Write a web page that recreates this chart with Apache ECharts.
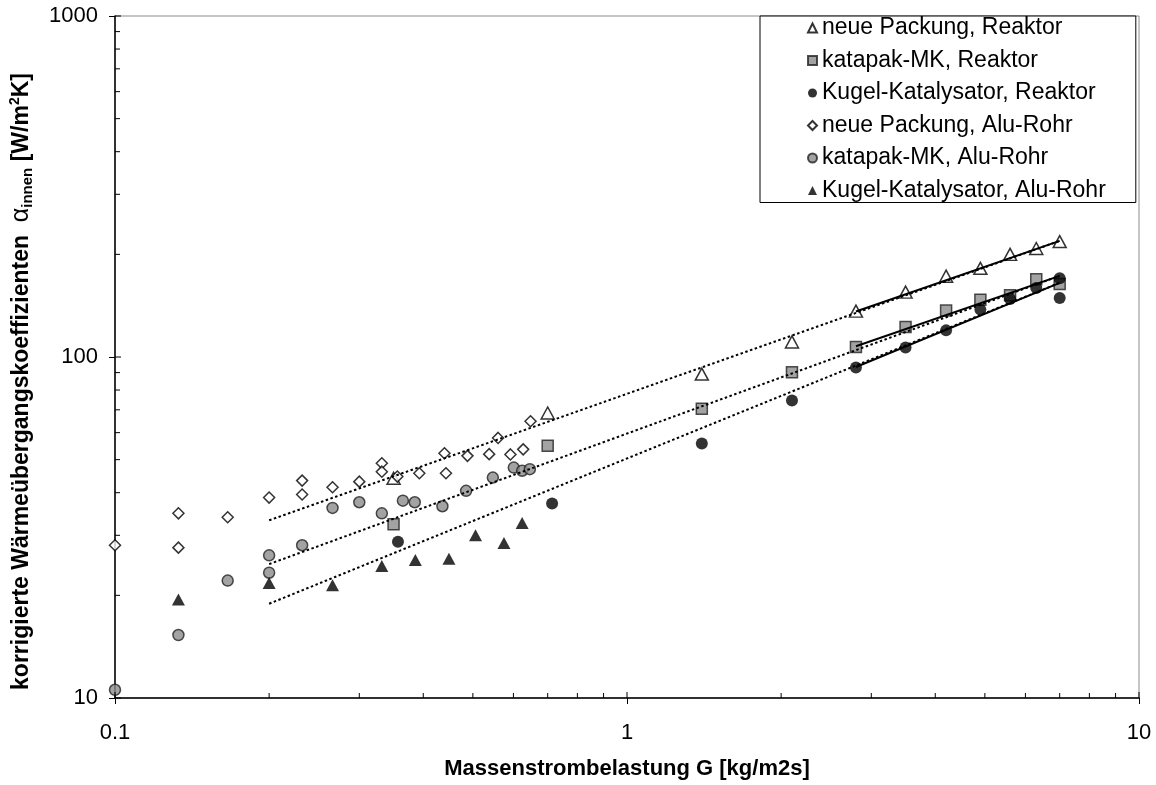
<!DOCTYPE html>
<html>
<head>
<meta charset="utf-8">
<script src="https://cdn.jsdelivr.net/npm/echarts@6/dist/echarts.min.js"></script>
<style>
html,body{margin:0;padding:0;background:#fff;}
#chart{width:1156px;height:785px;}
</style>
</head>
<body>
<div id="chart"></div>
<script>
// ---- data ----
const seriesNames = [
  'neue Packung, Reaktor',
  'katapak-MK, Reaktor',
  'Kugel-Katalysator, Reaktor',
  'neue Packung, Alu-Rohr',
  'katapak-MK, Alu-Rohr',
  'Kugel-Katalysator, Alu-Rohr'
];

const neueReaktorX = [0.35, 0.7, 1.4, 2.1, 2.8, 3.5, 4.2, 4.9, 5.6, 6.3, 7.0];
const neueReaktorY = [44.1, 68.5, 89.1, 110.7, 136.3, 155, 172.6, 182, 200, 208, 218];

const katapakReaktorX = [0.35, 0.7, 1.4, 2.1, 2.8, 3.5, 4.2, 4.9, 5.6, 6.3, 7.0];
const katapakReaktorY = [32.3, 54.9, 70.5, 90.2, 107, 122.4, 136.8, 147.3, 151.7, 169, 163.6];

const kugelReaktorX = [0.357, 0.714, 1.4, 2.1, 2.8, 3.5, 4.2, 4.9, 5.6, 6.3, 7.0, 7.0];
const kugelReaktorY = [28.7, 37.2, 55.8, 74.6, 93.2, 106.6, 119.7, 137.7, 148, 159.3, 170.3, 149];

const neueAluX = [0.1, 0.133, 0.133, 0.166, 0.2, 0.232, 0.232, 0.266, 0.3, 0.332, 0.332, 0.356, 0.393, 0.44, 0.443, 0.488, 0.538, 0.56, 0.592, 0.627, 0.648];
const neueAluY = [28.05, 34.8, 27.6, 33.9, 38.7, 43.4, 39.5, 41.5, 43.1, 48.8, 46.1, 44.6, 45.6, 52.2, 45.6, 51.3, 51.9, 57.9, 51.8, 53.6, 64.8];

const katapakAluX = [0.1, 0.133, 0.166, 0.2, 0.2, 0.232, 0.266, 0.3, 0.332, 0.365, 0.385, 0.436, 0.485, 0.547, 0.601, 0.624, 0.646];
const katapakAluY = [10.57, 15.3, 22.1, 26.2, 23.3, 28.05, 36.1, 37.5, 34.8, 37.9, 37.5, 36.5, 40.5, 44.3, 47.4, 46.4, 46.9];

const kugelAluX = [0.133, 0.2, 0.266, 0.332, 0.386, 0.449, 0.506, 0.575, 0.624];
const kugelAluY = [19.45, 21.75, 21.4, 24.4, 25.4, 25.6, 30.0, 28.5, 32.6];

// power-law trend lines (straight on log-log): [x, y] end points
const trendNeueDotted = [[0.2, 33.2], [7, 219]];
const trendKatapakDotted = [[0.2, 24.7], [7, 173]];
const trendKugelDotted = [[0.2, 18.9], [7, 165]];
const trendNeueSolid = [[2.8, 136], [7, 219]];
const trendKatapakSolid = [[2.8, 107.5], [7, 173]];
const trendKugelSolid = [[2.8, 93.5], [7, 165]];

// axis ticks
const xMajorTicks = [0.1, 1, 10];
const xMinorTicks = [0.2, 0.3, 0.4, 0.5, 0.6, 0.7, 0.8, 0.9, 2, 3, 4, 5, 6, 7, 8, 9];
const yMajorTicks = [10, 100, 1000];
const yMinorTicks = [20, 30, 40, 50, 60, 70, 80, 90, 200, 300, 400, 500, 600, 700, 800, 900];
const xTickLabels = { 0.1: '0.1', 1: '1', 10: '10' };
const yTickLabels = { 10: '10', 100: '100', 1000: '1000' };

// ---- chart ----
const FONT = 'Liberation Sans, Arial, sans-serif';
const pair = (xs, ys) => xs.map((x, i) => [x, ys[i]]);
const lbl = (map) => (v) => {
  for (const k in map) { if (Math.abs(Math.log10(v) - Math.log10(+k)) < 1e-6) return map[k]; }
  return '';
};

function tickSeries(data, dx, dy, len) {
  return {
    type: 'custom', coordinateSystem: 'cartesian2d', silent: true, clip: false, z: 6,
    data: data,
    renderItem: function (params, api) {
      const c = api.coord([api.value(0), api.value(1)]);
      return {
        type: 'line',
        shape: { x1: c[0], y1: c[1], x2: c[0] + dx * len, y2: c[1] + dy * len },
        style: { stroke: '#000', lineWidth: 1 }
      };
    }
  };
}

function trend(data, dotted) {
  return {
    type: 'line', data: data, symbol: 'none', silent: true, z: 4,
    lineStyle: dotted ? { color: '#000', width: 2, type: [2.5, 2.5] } : { color: '#000', width: 2, type: 'solid' }
  };
}

const option = {
  animation: false,
  backgroundColor: '#fff',
  textStyle: { fontFamily: FONT },
  grid: { left: 114.5, right: 17, top: 16, bottom: 82, show: true, borderColor: '#8c8c8c', borderWidth: 1 },
  xAxis: {
    type: 'log', logBase: 10, min: 0.1, max: 10,
    axisLine: { lineStyle: { color: '#000', width: 1.5 } },
    axisTick: { show: true, length: 6, lineStyle: { color: '#000', width: 1 } },
    axisLabel: { fontSize: 22, color: '#000', margin: 24, fontFamily: FONT, formatter: lbl(xTickLabels) },
    splitLine: { show: false },
    name: 'Massenstrombelastung G [kg/m2s]',
    nameLocation: 'middle', nameGap: 60,
    nameTextStyle: { fontSize: 22, fontWeight: 'bold', color: '#000', fontFamily: FONT }
  },
  yAxis: {
    type: 'log', logBase: 10, min: 10, max: 1000,
    axisLine: { lineStyle: { color: '#000', width: 1.5 } },
    axisTick: { show: true, length: 6, lineStyle: { color: '#000', width: 1 } },
    axisLabel: { fontSize: 22, color: '#000', margin: 17, fontFamily: FONT, formatter: lbl(yTickLabels) },
    splitLine: { show: false },
    name: '{t|korrigierte Wärmeübergangskoeffizienten  }{a|α}{s|innen}{t| [W/m}{p|2}{t|K]}',
    nameLocation: 'middle', nameGap: 80, nameRotate: 90,
    nameTextStyle: {
      color: '#000', fontFamily: FONT, padding: [0, 49, 0, 0],
      rich: {
        t: { fontSize: 23, fontWeight: 'bold', color: '#000', fontFamily: FONT, lineHeight: 27 },
        a: { fontSize: 25, color: '#000', fontFamily: FONT, lineHeight: 27 },
        s: { fontSize: 15, fontWeight: 'bold', color: '#000', fontFamily: FONT, verticalAlign: 'bottom', lineHeight: 27 },
        p: { fontSize: 14, fontWeight: 'bold', color: '#000', fontFamily: FONT, verticalAlign: 'top', lineHeight: 27 }
      }
    }
  },
  legend: {
    data: seriesNames,
    orient: 'vertical', left: 760, top: 16,
    itemWidth: 9, itemHeight: 9, itemGap: 8.5,
    padding: [0, 30, 0, 47],
    borderColor: '#000', borderWidth: 1, backgroundColor: '#fff',
    selectedMode: false,
    textStyle: { fontSize: 23, color: '#000', lineHeight: 24, fontFamily: FONT }
  },
  series: [
    { name: seriesNames[0], type: 'scatter', data: pair(neueReaktorX, neueReaktorY), symbol: 'triangle', symbolSize: [13, 12],
      itemStyle: { color: '#fff', borderColor: '#000', borderWidth: 1.5 }, z: 3 },
    { name: seriesNames[1], type: 'scatter', data: pair(katapakReaktorX, katapakReaktorY), symbol: 'rect', symbolSize: 11,
      itemStyle: { color: '#8c8c8c', borderColor: '#222', borderWidth: 1.5 }, z: 3 },
    { name: seriesNames[2], type: 'scatter', data: pair(kugelReaktorX, kugelReaktorY), symbol: 'circle', symbolSize: 12,
      itemStyle: { color: '#000', borderColor: '#000', borderWidth: 0 }, z: 3 },
    { name: seriesNames[3], type: 'scatter', data: pair(neueAluX, neueAluY), symbol: 'diamond', symbolSize: 11,
      itemStyle: { color: '#fff', borderColor: '#000', borderWidth: 1.5 }, z: 3 },
    { name: seriesNames[4], type: 'scatter', data: pair(katapakAluX, katapakAluY), symbol: 'circle', symbolSize: 11,
      itemStyle: { color: '#8c8c8c', borderColor: '#222', borderWidth: 1.5 }, z: 3 },
    { name: seriesNames[5], type: 'scatter', data: pair(kugelAluX, kugelAluY), symbol: 'triangle', symbolSize: [13, 12],
      itemStyle: { color: '#000', borderColor: '#000', borderWidth: 0 }, z: 3 },
    trend(trendNeueDotted, true),
    trend(trendKatapakDotted, true),
    trend(trendKugelDotted, true),
    trend(trendNeueSolid, false),
    trend(trendKatapakSolid, false),
    trend(trendKugelSolid, false),
    tickSeries(xMinorTicks.map(v => [v, 10]), 0, -1, 5),
    tickSeries(xMajorTicks.map(v => [v, 10]), 0, -1, 6),
    tickSeries(yMinorTicks.map(v => [0.1, v]), 1, 0, 5),
    tickSeries(yMajorTicks.map(v => [0.1, v]), 1, 0, 6)
  ]
};

const chart = echarts.init(document.getElementById('chart'), null, { renderer: 'canvas' });
chart.setOption(option);
</script>
</body>
</html>
